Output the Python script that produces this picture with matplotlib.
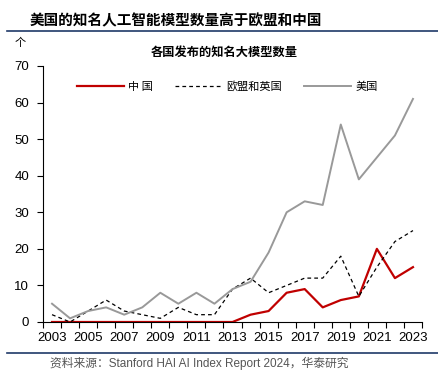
import numpy as np
import matplotlib.pyplot as plt
from matplotlib.lines import Line2D

plt.rcParams['font.family'] = ['Liberation Sans', 'Noto Sans CJK SC', 'DejaVu Sans']

# data
years = list(range(2003, 2024))
china = [0, 0, 0, 0, 0, 0, 0, 0, 0, 0, 0, 2, 3, 8, 9, 4, 6, 7, 20, 12, 15]
eu_uk = [2, 0, 3, 6, 3, 2, 1, 4, 2, 2, 9, 12, 8, 10, 12, 12, 18, 7, 15, 22, 25]
usa = [5, 1, 3, 4, 2, 4, 8, 5, 8, 5, 9, 11, 19, 30, 33, 32, 54, 39, 45, 51, 61]
names = ['中 国', '欧盟和英国', '美国']

cjk = ['Noto Sans CJK SC', 'DejaVu Sans']
navy = '#1F3A68'

fig = plt.figure(figsize=(4.39, 3.74), dpi=100)
ax = fig.add_axes([43/439, 1-322/374, 379/439, 256/374])

ax.plot(years, china, color='#C00000', lw=1.6, label=names[0])
ax.plot(years, eu_uk, color='black', lw=0.9, ls=(0, (3, 2.5)), label=names[1])
ax.plot(years, usa, color='#999999', lw=1.4, label=names[2])

ax.set_xlim(2002.5, 2023.5)
ax.set_ylim(0, 70)
ax.set_yticks(range(0, 71, 10))
ax.set_xticks(np.arange(2002.5, 2024, 1))
ax.set_xticklabels([])
for y in range(2003, 2024, 2):
    ax.text(y, -2.6, str(y), ha='center', va='top', fontsize=9.5)
ax.tick_params(axis='y', direction='out', length=4, labelsize=9.5, pad=6)
ax.tick_params(axis='x', direction='out', length=4)
for s in ['top', 'right']:
    ax.spines[s].set_visible(False)

leg = ax.legend(loc='center', bbox_to_anchor=(0.487, 0.92), ncol=3, frameon=False,
                handlelength=4.2, columnspacing=2.0, handletextpad=0.4,
                prop={'family': cjk, 'size': 8})

fig.text(30/439, 1-20/374, '美国的知名人工智能模型数量高于欧盟和中国', family=cjk,
         fontsize=10.5, fontweight='heavy', va='center', ha='left')
fig.add_artist(Line2D([7/439, 1], [1-31/374, 1-31/374], color=navy, lw=1.2))
fig.text(15/439, 1-43/374, '个', family=cjk, fontsize=8, va='center', ha='left')
fig.text(224/439, 1-52/374, '各国发布的知名大模型数量', family=cjk, fontsize=8.8,
         fontweight='bold', va='center', ha='center')
fig.add_artist(Line2D([7/439, 1], [1-353/374, 1-353/374], color=navy, lw=1.2))
fig.text(50/439, 1-363/374, '资料来源：Stanford HAI AI Index Report 2024，华泰研究',
         family=['Liberation Sans', 'Noto Sans CJK SC'], fontsize=8.5, color='#555555',
         va='center', ha='left')

fig.savefig('out.png', dpi=100)
